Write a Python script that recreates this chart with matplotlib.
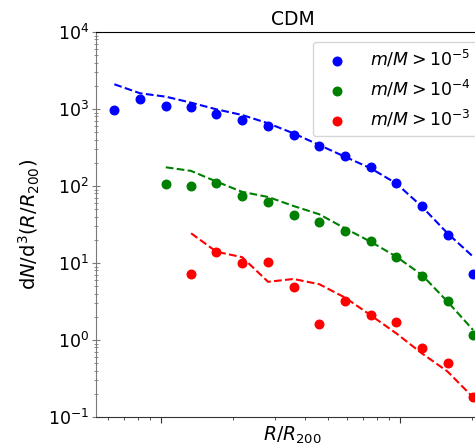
import matplotlib
matplotlib.use("Agg")
import matplotlib.pyplot as plt
from matplotlib.ticker import NullFormatter, LogLocator

# radial bins (R/R200)
r_bins = [0.064, 0.082, 0.105, 0.134, 0.171, 0.219, 0.281, 0.359, 0.46,
          0.589, 0.754, 0.965, 1.235, 1.58, 2.02]

# measured counts
pts_5 = [980, 1337, 1104, 1072, 853, 713, 607, 460, 333, 248, 177, 109, 55.5, 22.9, 7.3]
pts_4 = [105, 100, 109, 75, 62, 42, 34, 26.3, 19.3, 11.9, 6.7, 3.19, 1.17]
pts_3 = [7.2, 13.8, 9.9, 10.2, 4.87, 1.61, 3.18, 2.13, 1.73, 0.79, 0.51, 0.18]

# model curves (dashed)
mod_5 = [2095, 1600, 1446, 1208, 990, 836, 652, 483, 340, 240, 170, 108, 54, 24.3, 12.1]
mod_4 = [175, 157, 114, 84, 72, 55, 42.9, 28.2, 18.9, 12.1, 7.0, 3.15, 1.35]
mod_3 = [24.3, 14.0, 11.9, 5.7, 6.2, 5.3, 3.56, 2.1, 1.22, 0.67, 0.39, 0.18]

labels = [r'$m/M > 10^{-5}$', r'$m/M > 10^{-4}$', r'$m/M > 10^{-3}$']
colors = ['blue', 'green', 'red']
title = 'CDM'

fig = plt.figure(figsize=(4.75, 4.48), dpi=100)
W, H = 475, 448
ax = fig.add_axes([96 / W, 1 - 417 / H, (489 - 96) / W, (417 - 32) / H])

series = [(pts_5, mod_5), (pts_4, mod_4), (pts_3, mod_3)]
for (pts, mod), lab, col in zip(series, labels, colors):
    xs = r_bins[len(r_bins) - len(pts):]
    ax.scatter(xs, pts, s=38, color=col, label=lab, zorder=3)
    ax.plot(xs, mod, '--', color=col, lw=1.5)

ax.set_xscale('log')
ax.set_yscale('log')
ax.set_xlim(0.05365, 2.355)
ax.set_ylim(0.1, 1e4)
ax.xaxis.set_major_formatter(NullFormatter())
ax.xaxis.set_minor_formatter(NullFormatter())
ax.yaxis.set_major_locator(LogLocator(base=10, numticks=10))
ax.yaxis.set_minor_locator(LogLocator(base=10, subs=range(2, 10), numticks=10))

ax.spines['left'].set_color('#7a7a7a')
ax.spines['bottom'].set_color('#333333')
ax.spines['top'].set_color('black')
ax.tick_params(axis='y', which='major', direction='inout', length=6, color='#7a7a7a',
               labelsize=12.5, pad=2)
ax.tick_params(axis='y', which='minor', direction='inout', length=3, color='#7a7a7a')
ax.tick_params(axis='x', which='major', length=4, color='#333333')
ax.tick_params(axis='x', which='minor', length=2.5, color='#333333')

ax.set_title(title, fontsize=13.5, pad=5)
ax.set_xlabel(r'$R/R_{200}$', fontsize=13.5, labelpad=-2)
ax.set_ylabel(r'd$N$/d$^3$($R/R_{200}$)', fontsize=14, labelpad=4)

ax.legend(loc='upper left', bbox_to_anchor=(312.7 / W, 1 - 41.7 / H),
          bbox_transform=fig.transFigure, fontsize=12.5, borderaxespad=0,
          handletextpad=0.9)

fig.savefig('out.png', dpi=100)
